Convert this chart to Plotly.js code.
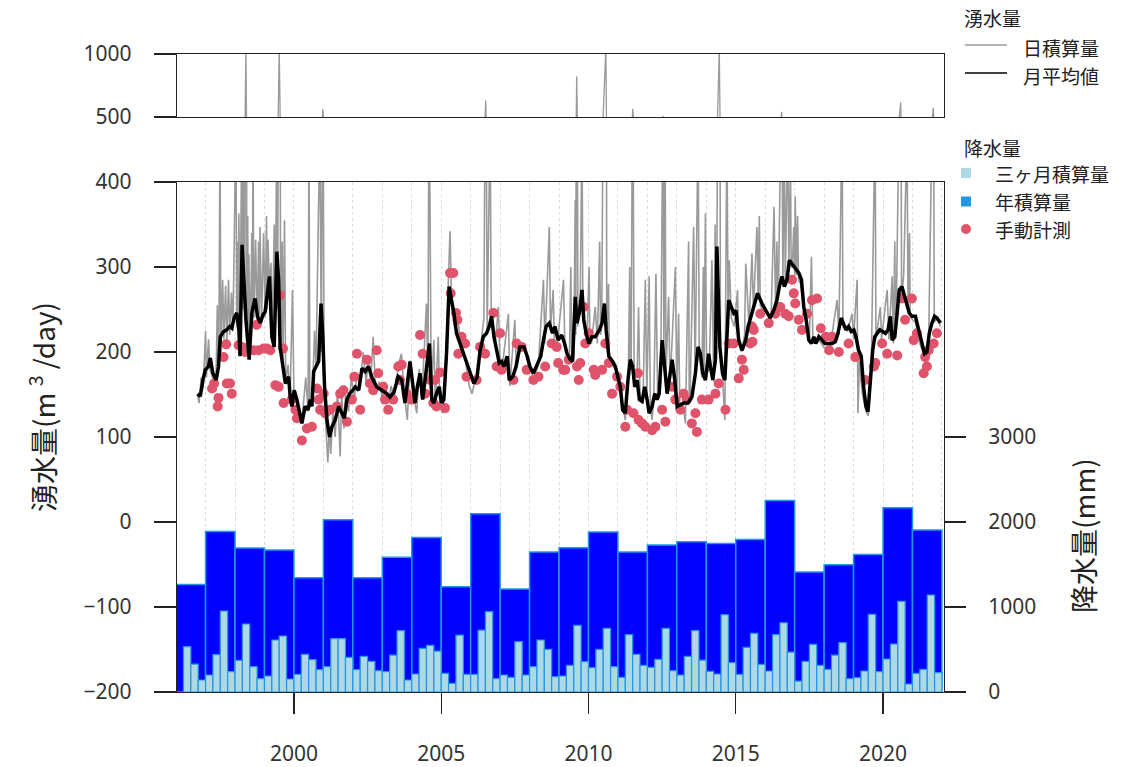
<!DOCTYPE html>
<html>
<head>
<meta charset="utf-8">
<script src="https://cdn.plot.ly/plotly-3.0.1.min.js"></script>
<style>html,body{margin:0;padding:0;background:#fff;}#chart{width:1128px;height:767px;}</style>
</head>
<body>
<div id="chart"></div>
<script>
// ---- Data ----
// Annual precipitation (mm), one value per year
const annualYears = [1996,1997,1998,1999,2000,2001,2002,2003,2004,2005,2006,2007,2008,2009,2010,2011,2012,2013,2014,2015,2016,2017,2018,2019,2020,2021];
const annualPrecip = [1266,1889,1693,1670,1345,2027,1345,1584,1819,1239,2097,1211,1646,1697,1882,1646,1729,1768,1748,1795,2254,1411,1497,1619,2168,1905];

// Three-month precipitation (mm), quarters from 1996 Q2 to 2021 Q4
const quarterStart = 1996.25;
const quarterPrecip = [
  533,329,141,
  200,439,953,239,
  372,800,298,157,
  188,612,659,153,
  208,443,380,263,
  298,627,627,408,
  263,419,361,251,
  239,435,721,141,
  212,514,549,482,
  220,102,670,208,
  208,729,945,157,
  200,172,592,200,
  298,612,502,180,
  188,314,784,357,
  286,502,749,298,
  172,674,443,314,
  290,384,749,251,
  200,419,721,376,
  243,212,909,345,
  208,525,690,325,
  247,674,815,470,
  129,361,561,314,
  267,435,580,157,
  169,247,913,239,
  388,565,1066,94,
  220,267,1141,227
];

// Daily spring discharge (m3/day) – sampled peaks and troughs
const dailyT = [1996.72,1996.78,1996.85,1996.92,1997.00,1997.03,1997.10,1997.15,1997.25,1997.35,1997.45,1997.49,1997.52,1997.58,1997.62,1997.68,1997.72,1997.78,1997.82,1997.88,1997.93,1998.03,1998.06,1998.13,1998.17,1998.23,1998.26,1998.30,1998.33,1998.37,1998.40,1998.47,1998.52,1998.61,1998.64,1998.70,1998.75,1998.85,1998.90,1998.97,1999.02,1999.12,1999.16,1999.22,1999.27,1999.42,1999.45,1999.50,1999.55,1999.68,1999.72,1999.80,1999.87,1999.95,2000.00,2000.10,2000.20,2000.30,2000.40,2000.48,2000.51,2000.54,2000.62,2000.70,2000.75,2000.88,2000.93,2000.98,2001.03,2001.10,2001.15,2001.20,2001.25,2001.32,2001.40,2001.48,2001.57,2001.62,2001.70,2001.75,2001.85,2001.95,2002.05,2002.15,2002.25,2002.35,2002.45,2002.55,2002.60,2002.69,2002.78,2002.90,2003.00,2003.10,2003.20,2003.30,2003.40,2003.55,2003.65,2003.75,2003.85,2003.94,2004.05,2004.17,2004.25,2004.35,2004.50,2004.55,2004.58,2004.62,2004.66,2004.75,2004.80,2004.90,2004.95,2005.05,2005.15,2005.22,2005.30,2005.35,2005.45,2005.55,2005.65,2005.80,2005.95,2006.05,2006.20,2006.35,2006.45,2006.51,2006.56,2006.66,2006.70,2006.85,2006.94,2007.00,2007.10,2007.28,2007.33,2007.50,2007.55,2007.70,2007.85,2008.00,2008.15,2008.30,2008.47,2008.52,2008.67,2008.71,2008.80,2008.84,2008.95,2009.15,2009.20,2009.35,2009.50,2009.55,2009.57,2009.60,2009.64,2009.72,2009.78,2009.81,2009.95,2010.10,2010.23,2010.30,2010.45,2010.59,2010.62,2010.75,2010.90,2011.00,2011.10,2011.25,2011.35,2011.45,2011.50,2011.55,2011.65,2011.70,2011.75,2011.85,2011.93,2011.98,2012.06,2012.10,2012.16,2012.22,2012.29,2012.35,2012.45,2012.53,2012.56,2012.60,2012.63,2012.72,2012.77,2012.95,2013.00,2013.06,2013.10,2013.20,2013.29,2013.45,2013.57,2013.62,2013.72,2013.76,2013.85,2013.97,2014.01,2014.10,2014.19,2014.25,2014.35,2014.44,2014.48,2014.55,2014.63,2014.70,2014.74,2014.78,2014.85,2014.95,2015.06,2015.10,2015.20,2015.30,2015.34,2015.45,2015.55,2015.60,2015.72,2015.76,2015.90,2016.05,2016.20,2016.30,2016.35,2016.45,2016.56,2016.60,2016.65,2016.68,2016.77,2016.80,2016.92,2016.97,2017.00,2017.02,2017.06,2017.20,2017.35,2017.50,2017.57,2017.62,2017.80,2018.00,2018.20,2018.44,2018.50,2018.61,2018.64,2018.80,2018.95,2019.00,2019.12,2019.15,2019.20,2019.30,2019.42,2019.50,2019.60,2019.73,2019.76,2019.91,2019.95,2020.14,2020.20,2020.31,2020.35,2020.45,2020.60,2020.63,2020.70,2020.77,2020.81,2020.85,2020.95,2021.10,2021.25,2021.40,2021.55,2021.71,2021.74,2021.85,2021.95];
const dailyV = [150,140,170,158,225,170,215,180,168,160,190,460,200,285,215,278,210,285,220,270,225,470,230,363,200,480,250,470,260,1050,220,315,200,450,240,332,230,347,235,340,240,332,280,305,215,470,250,1050,200,355,165,185,145,273,150,140,120,130,170,130,460,135,140,225,180,470,200,562,150,100,70,110,80,130,100,155,77,150,110,150,130,170,145,175,160,200,165,195,160,218,150,165,145,165,140,160,145,185,198,150,120,190,150,128,180,150,257,170,480,375,150,214,140,218,140,128,170,260,342,260,230,250,205,195,160,151,175,210,240,630,225,470,235,215,253,185,190,245,160,238,180,210,200,180,170,185,285,210,347,225,273,215,210,285,205,190,195,379,220,823,230,260,470,240,215,210,253,210,230,1050,220,190,180,175,150,120,165,190,565,180,170,253,145,140,285,145,289,135,120,150,292,145,160,510,200,470,170,265,160,300,150,245,135,140,116,150,347,170,470,200,170,363,175,180,308,165,200,1050,190,170,120,470,230,308,240,230,273,210,200,220,304,230,316,250,347,265,250,245,240,371,250,270,542,280,470,280,470,300,300,347,290,383,290,280,240,215,312,210,215,205,205,261,220,470,230,225,245,215,285,128,190,150,130,125,180,470,215,253,215,273,215,289,210,245,617,265,290,394,470,250,240,235,210,195,215,575,235,240,230];
// Additional daily peaks/troughs in the densest periods
const dailyExtraT = [1997.40,1997.42,1998.09,1998.11,1998.43,1998.45,1998.57,1998.59,1998.80,1998.82,1999.07,1999.09,1999.33,1999.36,1999.60,1999.63,2009.40,2009.43,2010.02,2010.05,2010.38,2010.41,2010.68,2010.71,2011.40,2011.42,2013.40,2013.42,2013.90,2013.92,2014.30,2014.32,2015.80,2015.83,2016.40,2016.42,2016.86,2016.88,2017.10,2017.13,2020.40,2020.42,2020.90,2020.92];
const dailyExtraV = [255,175,330,230,360,215,340,230,330,230,360,250,350,220,330,190,300,195,300,210,330,220,280,190,300,185,330,150,300,170,350,190,360,255,330,265,420,300,360,285,330,220,340,245];

// Monthly mean discharge (m3/day)
const monthlyT = [1996.73,1996.82,1996.91,1996.99,1997.10,1997.16,1997.25,1997.36,1997.44,1997.50,1997.61,1997.72,1997.82,1997.89,1997.97,1998.06,1998.13,1998.17,1998.24,1998.30,1998.37,1998.48,1998.57,1998.68,1998.76,1998.86,1998.95,1999.02,1999.11,1999.17,1999.25,1999.33,1999.42,1999.48,1999.53,1999.63,1999.71,1999.82,1999.87,1999.93,2000.01,2000.10,2000.19,2000.27,2000.38,2000.48,2000.55,2000.61,2000.67,2000.76,2000.84,2000.92,2000.98,2001.04,2001.12,2001.21,2001.29,2001.40,2001.52,2001.63,2001.71,2001.80,2001.89,2002.00,2002.08,2002.20,2002.31,2002.42,2002.53,2002.65,2002.81,2002.98,2003.15,2003.26,2003.40,2003.54,2003.66,2003.77,2003.85,2003.94,2004.03,2004.11,2004.19,2004.28,2004.37,2004.45,2004.53,2004.60,2004.68,2004.75,2004.84,2004.93,2005.01,2005.09,2005.18,2005.27,2005.35,2005.43,2005.52,2005.64,2005.75,2005.88,2006.03,2006.11,2006.22,2006.32,2006.43,2006.54,2006.63,2006.71,2006.79,2006.88,2006.97,2007.05,2007.13,2007.24,2007.31,2007.43,2007.54,2007.67,2007.81,2007.92,2008.01,2008.13,2008.24,2008.38,2008.47,2008.56,2008.67,2008.78,2008.86,2008.97,2009.09,2009.19,2009.27,2009.38,2009.46,2009.55,2009.61,2009.69,2009.78,2009.84,2009.92,2010.01,2010.12,2010.23,2010.37,2010.46,2010.54,2010.60,2010.69,2010.82,2010.91,2011.00,2011.08,2011.16,2011.25,2011.34,2011.42,2011.50,2011.57,2011.65,2011.73,2011.82,2011.91,2011.99,2012.06,2012.16,2012.25,2012.33,2012.40,2012.50,2012.59,2012.67,2012.74,2012.84,2012.93,2013.01,2013.12,2013.23,2013.38,2013.51,2013.63,2013.72,2013.80,2013.88,2013.97,2014.08,2014.14,2014.22,2014.31,2014.36,2014.46,2014.55,2014.63,2014.68,2014.76,2014.85,2014.93,2015.01,2015.10,2015.21,2015.34,2015.42,2015.49,2015.63,2015.74,2015.89,2016.03,2016.17,2016.29,2016.40,2016.48,2016.57,2016.65,2016.74,2016.82,2016.91,2017.02,2017.14,2017.23,2017.31,2017.39,2017.48,2017.57,2017.65,2017.72,2017.82,2017.93,2018.02,2018.13,2018.27,2018.38,2018.47,2018.58,2018.66,2018.74,2018.83,2018.92,2019.01,2019.08,2019.17,2019.26,2019.34,2019.42,2019.49,2019.57,2019.65,2019.72,2019.80,2019.89,2019.99,2020.08,2020.17,2020.25,2020.31,2020.40,2020.48,2020.55,2020.64,2020.74,2020.81,2020.89,2020.98,2021.10,2021.21,2021.32,2021.41,2021.49,2021.57,2021.66,2021.75,2021.83,2021.95];
const monthlyV = [151,148,167,179,183,193,175,167,183,218,224,226,230,228,240,246,226,195,326,285,238,191,246,263,242,234,244,247,277,289,218,206,318,285,206,183,163,171,148,136,155,144,128,116,136,132,144,136,177,183,189,257,218,159,120,100,112,120,136,128,122,144,151,155,159,155,181,177,183,170,159,155,151,147,153,171,167,140,163,189,163,140,159,175,144,167,195,210,144,140,151,159,140,144,198,277,261,246,222,210,198,187,171,163,171,202,218,222,230,242,218,202,187,189,183,195,167,171,183,206,206,195,183,175,183,195,214,230,234,222,230,214,220,210,198,191,189,265,234,246,273,238,222,210,218,218,226,234,257,226,195,189,183,171,159,132,128,167,191,183,159,167,144,142,159,144,128,136,151,144,151,214,175,151,167,191,167,136,138,140,140,147,175,206,198,175,167,198,183,167,191,324,206,175,167,206,261,253,246,249,214,202,214,230,238,253,269,257,249,240,249,261,277,289,277,285,308,304,300,293,285,253,238,214,210,218,210,218,214,210,210,210,212,222,240,234,226,230,224,226,218,202,195,159,136,130,171,202,218,222,226,224,222,226,242,214,218,246,273,277,265,253,246,242,242,226,208,198,200,222,234,242,240,234];

// Manual measurements (m3/day)
const manualT = [1997.22,1997.29,1997.41,1997.44,1997.61,1997.70,1997.72,1997.83,1997.89,1998.12,1998.23,1998.34,1998.63,1998.74,1998.80,1998.97,1999.08,1999.20,1999.37,1999.48,1999.53,1999.63,1999.65,1999.93,2000.05,2000.10,2000.27,2000.44,2000.61,2000.78,2000.84,2000.89,2001.01,2001.06,2001.23,2001.46,2001.57,2001.68,2001.80,2001.97,2002.05,2002.14,2002.25,2002.48,2002.58,2002.69,2002.81,2002.86,2003.03,2003.09,2003.20,2003.37,2003.54,2003.60,2003.66,2003.83,2004.00,2004.28,2004.37,2004.45,2004.62,2004.73,2004.79,2004.84,2004.96,2005.13,2005.30,2005.32,2005.41,2005.50,2005.55,2005.58,2005.69,2005.81,2005.86,2006.20,2006.32,2006.49,2006.77,2006.88,2007.00,2007.05,2007.45,2007.56,2007.73,2007.90,2008.13,2008.30,2008.53,2008.75,2008.92,2008.97,2009.14,2009.21,2009.33,2009.61,2009.67,2009.72,2009.84,2009.89,2010.01,2010.18,2010.23,2010.46,2010.57,2010.69,2010.80,2010.97,2011.08,2011.25,2011.31,2011.53,2011.68,2011.70,2011.82,2011.93,2012.16,2012.27,2012.50,2012.61,2012.84,2012.95,2013.12,2013.23,2013.34,2013.51,2013.63,2013.68,2013.85,2014.08,2014.31,2014.42,2014.65,2014.76,2014.93,2015.10,2015.21,2015.27,2015.49,2015.55,2015.57,2015.61,2015.83,2016.12,2016.34,2016.51,2016.68,2016.80,2016.91,2016.97,2017.02,2017.14,2017.25,2017.42,2017.59,2017.76,2017.89,2018.06,2018.17,2018.27,2018.50,2018.83,2019.06,2019.40,2019.69,2019.74,2019.97,2020.14,2020.48,2020.64,2020.75,2020.98,2021.04,2021.15,2021.38,2021.43,2021.49,2021.55,2021.72,2021.83];
const manualV = [157,163,136,146,194,209,163,163,151,208,206,200,202,232,202,204,204,202,161,159,267,204,140,144,132,122,96,110,112,157,144,132,151,128,132,136,151,155,118,144,171,198,132,191,163,155,202,175,159,144,132,144,183,167,185,151,144,220,198,151,167,140,167,136,176,134,293,269,293,246,238,198,218,210,171,167,206,198,246,183,222,179,167,210,206,179,167,171,183,210,206,187,179,179,191,183,167,187,253,210,222,179,173,179,210,187,151,171,159,112,132,128,175,120,116,112,108,112,132,118,159,144,132,151,144,116,128,106,144,144,151,163,132,210,210,169,191,179,210,230,212,226,245,234,245,253,245,242,285,269,257,238,226,245,261,263,228,218,202,218,200,210,194,167,183,187,210,198,196,263,238,263,214,222,175,194,183,202,210,222];

// Tick values
const xTickYears = [2000,2005,2010,2015,2020];
const precipTicks = [0,1000,2000,3000];

// ---- Build traces ----
const FONT = '"Noto Sans CJK JP", "Noto Sans", sans-serif';
const annualX = annualYears.map(y => y + 0.5);
const quarterX = quarterPrecip.map((_, i) => quarterStart + i * 0.25 + 0.125);

// merge the daily samples in time order
const dailyPairs = dailyT.map((t, i) => [t, dailyV[i]])
  .concat(dailyExtraT.map((t, i) => [t, dailyExtraV[i]]))
  .sort((a, b) => a[0] - b[0]);
const dT = dailyPairs.map(p => p[0]);
const dV = dailyPairs.map(p => p[1]);

const traces = [
  { type:'bar', x: annualX, y: annualPrecip, xaxis:'x', yaxis:'y2', width: 1,
    marker:{color:'#0000FF', line:{color:'#2297E6', width:1.5}}, showlegend:false, hoverinfo:'skip' },
  { type:'bar', x: quarterX, y: quarterPrecip, xaxis:'x', yaxis:'y2', width: 0.25,
    marker:{color:'#ADD8E6', line:{color:'#2297E6', width:1.2}}, showlegend:false, hoverinfo:'skip' },
  { type:'scatter', mode:'lines', x: dT, y: dV, xaxis:'x', yaxis:'y',
    line:{color:'#9a9a9a', width:1.6}, showlegend:false, hoverinfo:'skip' },
  { type:'scatter', mode:'lines', x: dT, y: dV, xaxis:'x2', yaxis:'y3',
    line:{color:'#9a9a9a', width:1.3}, showlegend:false, hoverinfo:'skip' },
  { type:'scatter', mode:'markers', x: manualT, y: manualV, xaxis:'x', yaxis:'y',
    marker:{color:'#DF536B', size:10}, showlegend:false, hoverinfo:'skip' },
  { type:'scatter', mode:'lines', x: monthlyT, y: monthlyV, xaxis:'x', yaxis:'y',
    line:{color:'#000000', width:3.5}, showlegend:false, hoverinfo:'skip' }
];

// ---- Layout helpers (pixel -> paper) ----
const L = 177, R = 944, T = 54, B = 692;
const px = v => (v - L) / (R - L);
const py = v => (B - v) / (B - T);

const tickFont = {family:'"Noto Sans", sans-serif', size:21, color:'#333'};
const axLine = {showline:true, linecolor:'#222', linewidth:1.2, mirror:true, zeroline:false};

const legendText = (text, x, y, size) => ({
  text, xref:'paper', yref:'paper', x: px(x), y: py(y), xanchor:'left', yanchor:'middle',
  showarrow:false, font:{family:FONT, size: size || 19, color:'#222'}
});

const layout = {
  width:1128, height:767,
  margin:{l:L, r:1128-R, t:T, b:767-B, pad:0},
  paper_bgcolor:'#fff', plot_bgcolor:'rgba(0,0,0,0)',
  showlegend:false, barmode:'overlay', bargap:0,
  xaxis: Object.assign({}, axLine, {
    domain:[0,1], range:[1996.03, 2022.07], anchor:'y',
    tickmode:'array', tickvals: xTickYears, ticks:'outside', ticklen:21, tickwidth:1.2, tickcolor:'#222',
    tickfont: tickFont, ticklabelstandoff: 22,
    showgrid:true, gridcolor:'#dcdcdc', griddash:'dot', gridwidth:1,
    minor:{dtick:1, tick0:1996, showgrid:true, gridcolor:'#dcdcdc', griddash:'dot', gridwidth:1, ticks:''}
  }),
  yaxis: Object.assign({}, axLine, {
    domain:[0, py(182)], range:[-200, 400], anchor:'x',
    tickmode:'linear', tick0:0, dtick:100, ticks:'outside', ticklen:22, tickwidth:1.2, tickcolor:'#222',
    tickfont: tickFont, ticklabelstandoff: 18, showgrid:false
  }),
  yaxis2: {
    overlaying:'y', side:'right', anchor:'x', range:[0, 6000],
    tickmode:'array', tickvals: precipTicks, ticks:'outside', ticklen:21, tickwidth:1.2, tickcolor:'#222',
    tickfont: tickFont, ticklabelstandoff: 18, showgrid:false, zeroline:false, showline:false
  },
  xaxis2: Object.assign({}, axLine, {
    domain:[0,1], range:[1996.03, 2022.07], anchor:'y3', showticklabels:false, ticks:'', showgrid:false
  }),
  yaxis3: Object.assign({}, axLine, {
    domain:[py(117), 1], range:[500, 1000], anchor:'x2',
    tickmode:'array', tickvals:[500, 1000], ticks:'outside', ticklen:22, tickwidth:1.2, tickcolor:'#222',
    tickfont: tickFont, ticklabelstandoff: 18, showgrid:false
  }),
  annotations: [
    { text:'湧水量(m <sup>3</sup> /day)', xref:'paper', yref:'paper', x: px(42), y: py(407),
      xanchor:'center', yanchor:'middle', textangle:-90, showarrow:false,
      font:{family:FONT, size:28, color:'#222'} },
    { text:'降水量(mm)', xref:'paper', yref:'paper', x: px(1083), y: py(536),
      xanchor:'center', yanchor:'middle', textangle:-90, showarrow:false,
      font:{family:FONT, size:28, color:'#222'} },
    legendText('湧水量', 962, 18),
    legendText('日積算量', 1021, 47),
    legendText('月平均値', 1021, 75),
    legendText('降水量', 962, 147),
    legendText('三ヶ月積算量', 993, 173),
    legendText('年積算量', 993, 201.5),
    legendText('手動計測', 993, 229)
  ],
  shapes: [
    { type:'line', xref:'paper', yref:'paper', x0: px(965), x1: px(1007), y0: py(45), y1: py(45),
      line:{color:'#9a9a9a', width:1.3} },
    { type:'line', xref:'paper', yref:'paper', x0: px(965), x1: px(1007), y0: py(73), y1: py(73),
      line:{color:'#000', width:1.5} },
    { type:'rect', xref:'paper', yref:'paper', xsizemode:'pixel', ysizemode:'pixel',
      xanchor: px(966), yanchor: py(173), x0:-5, x1:5, y0:-5, y1:5,
      fillcolor:'#ADD8E6', line:{width:0} },
    { type:'rect', xref:'paper', yref:'paper', xsizemode:'pixel', ysizemode:'pixel',
      xanchor: px(966), yanchor: py(201.5), x0:-5, x1:5, y0:-5, y1:5,
      fillcolor:'#2297E6', line:{width:0} },
    { type:'circle', xref:'paper', yref:'paper', xsizemode:'pixel', ysizemode:'pixel',
      xanchor: px(966), yanchor: py(229), x0:-5, x1:5, y0:-5, y1:5,
      fillcolor:'#DF536B', line:{width:0} }
  ]
};

Plotly.newPlot('chart', traces, layout, {displayModeBar:false, staticPlot:true});
</script>
</body>
</html>
